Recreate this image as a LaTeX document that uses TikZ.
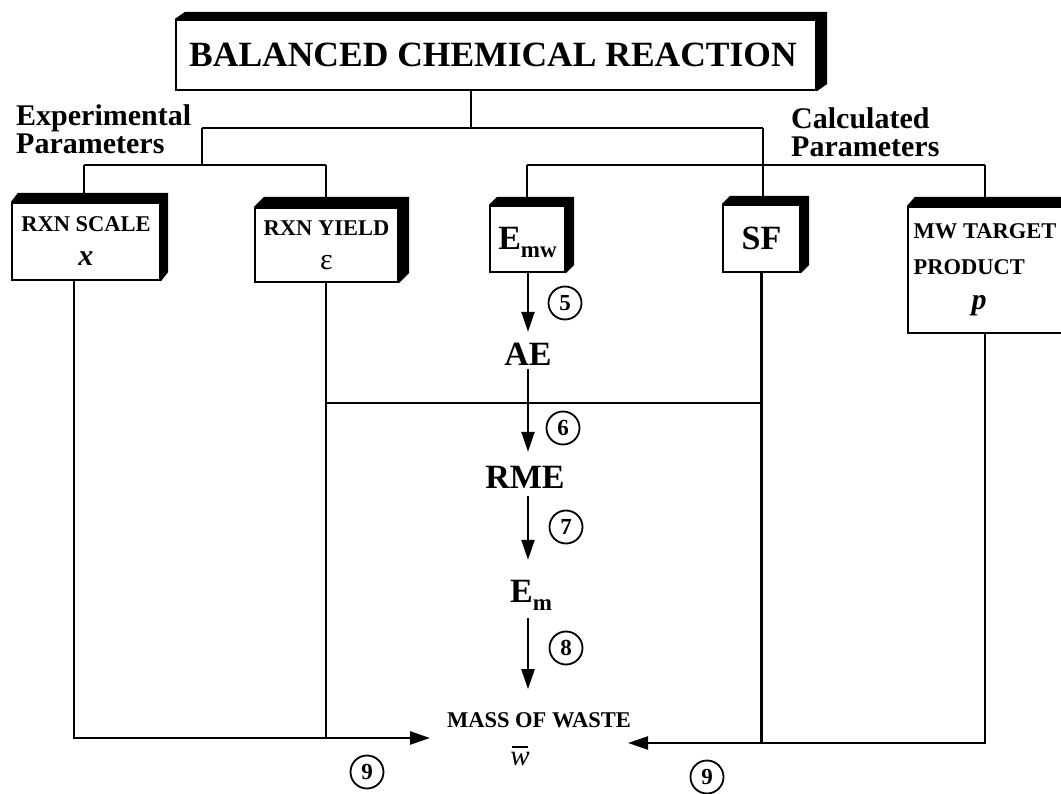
\documentclass[tikz,border=0pt]{standalone}
\usepackage{fontspec}
\setmainfont{Liberation Serif}
\usetikzlibrary{arrows.meta,calc}
\newcommand\fs[2]{\fontsize{#1}{#2}\selectfont}
\newcommand\bevelbox[3]{%
  \fill (#1.north west) -- ++(#2,-#3) -- ($(#1.north east)+(#2,-#3)$) -- ($(#1.south east)+(#2,-#3)$) -- (#1.south east) -- (#1.north east) -- cycle;}
\begin{document}
\begin{tikzpicture}[x=1pt,y=-1pt,
  line width=2.4pt,
  box/.style={draw,fill=white,line width=2.2pt,inner sep=0pt,align=center,font=\bfseries\fs{22.5}{34}},
  chainnode/.style={font=\bfseries\fs{34}{34},inner sep=2pt,text height=22pt,text depth=0pt},
  num/.style={circle,draw,line width=1.8pt,minimum size=33pt,inner sep=0pt,font=\bfseries\fs{23}{23}},
  arr/.style={-{Triangle[length=20pt,width=13pt]}},
  lab/.style={font=\bfseries\fs{30}{28}\selectfont,align=left,inner sep=0pt}
]
\useasboundingbox (0,0) rectangle (1061,794);
\clip (0,0) rectangle (1061,794);

% boxes
\node[box,minimum width=640pt,minimum height=70pt,font=\bfseries\fs{35.5}{35.5}] (title) at (496,55) {BALANCED CHEMICAL REACTION\hspace*{6pt}};
\node[box,minimum width=148pt,minimum height=77pt] (scale) at (86,241.5) {RXN SCALE\\{\fs{30}{34}\itshape x}};
\node[box,minimum width=143pt,minimum height=74pt] (yield) at (326.5,245) {RXN YIELD\\{\mdseries\fs{30}{34}ε}};
\node[box,minimum width=75pt,minimum height=66pt,font=\bfseries\fs{34}{34},text height=22pt,text depth=0pt] (emw) at (527.5,239) {E\raisebox{-8pt}{\fs{23}{23}mw}};
\node[box,minimum width=77pt,minimum height=67pt,font=\bfseries\fs{34}{34}] (sf) at (761.5,238.5) {SF};
\node[box,minimum width=154pt,minimum height=126pt,align=left,font=\bfseries\fs{22.5}{35.5}] (mw) at (985,270) {MW TARGET\\PRODUCT\\\hspace*{58pt}{\fs{30}{35.5}\itshape p}};

\bevelbox{title}{10}{7}
\bevelbox{scale}{7}{9}
\bevelbox{yield}{10}{10}
\bevelbox{emw}{8}{8}
\bevelbox{sf}{8}{8}
\bevelbox{mw}{8}{9}

% side labels
\node[lab,anchor=west] (exp) at (15,129) {Experimental\\Parameters};
\node[lab,anchor=west] (calc) at (790,132) {Calculated\\Parameters};

% chain
\node[chainnode] (ae) at (528,355) {AE};
\node[chainnode] (rme) at (525,477) {RME};
\node[chainnode] (em) at (531,591) {E\raisebox{-8pt}{\fs{23}{23}m}};
\node[font=\bfseries\fs{22.5}{22.5},inner sep=2pt] (mass) at (539,720) {MASS OF WASTE};
\node[font=\fs{29}{29}\itshape,inner sep=1pt] (wbar) at (520,756) {\makebox[0pt][l]{\hspace{2pt}\rule[18pt]{16pt}{1.6pt}}w};

% circled numbers
\node[num] (n5) at (565,303) {5};
\node[num] (n6) at (563,428) {6};
\node[num] (n7) at (566,527) {7};
\node[num] (n8) at (566,648) {8};
\node[num] (n9a) at (367,772) {9};
\node[num] (n9b) at (707,777) {9};

% junction coordinates
\coordinate (jt) at (471,128);
\coordinate (jl) at (202,128);
\coordinate (jr) at (763,128);
\coordinate (jl2) at (202,165);
\coordinate (ja) at (84,165);
\coordinate (jb) at (326,165);
\coordinate (jc) at (527,165);
\coordinate (jd) at (985,165);
\coordinate (bl) at (74,738);
\coordinate (lin) at (430,738);
\coordinate (rin) at (628,743);
\coordinate (br) at (985,743);
\coordinate (my) at (326,403);

% tree connectors
\draw (jt |- title.south) -- (jt);
\draw (jl) -- (jr);
\draw (jl) -- (jl2);
\draw (ja) -- (jb);
\draw (ja) -- (ja |- scale.north);
\draw (jb) -- (jb |- yield.north);
\draw (jr) -- (jr |- sf.north);
\draw (jc) -- (jd);
\draw (jc) -- (jc |- emw.north);
\draw (jd) -- (jd |- mw.north);

% bottom connectors
\draw[arr] (bl |- scale.south) -- (bl) -- (lin);
\draw (my |- yield.south) -- (my |- bl);
\draw (my) -- (my -| sf.south);
\draw (sf.south) -- (sf.south |- br);
\draw[arr] (br |- mw.south) -- (br) -- (rin);

% chain arrows
\draw[arr,shorten >=9pt] (ae.north |- emw.south) -- (ae.north);
\draw[arr,shorten >=11pt] (ae.south) -- (ae.south |- rme.north);
\draw[arr,shorten <=5pt,shorten >=17pt] (ae.south |- rme.south) -- (ae.south |- em.north);
\draw[arr,shorten <=13pt,shorten >=20pt] (ae.south |- em.south) -- (ae.south |- mass.north);
\end{tikzpicture}
\end{document}
